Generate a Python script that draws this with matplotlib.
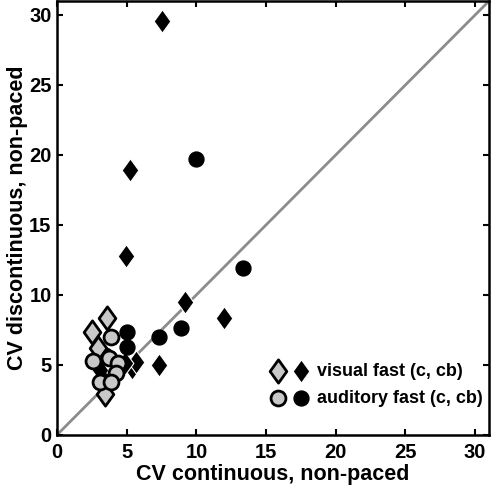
import matplotlib

matplotlib.use("Agg")
import matplotlib.pyplot as plt
from matplotlib.path import Path
from matplotlib.legend_handler import HandlerTuple

plt.rcParams["font.family"] = ["Liberation Sans", "DejaVu Sans"]
plt.rcParams["font.weight"] = "bold"

# visual fast, condition c (grey diamonds)
vis_c_x = [2.5, 3.55, 2.95, 3.45]
vis_c_y = [7.35, 8.35, 6.2, 2.9]
# visual fast, condition cb (black diamonds)
vis_cb_x = [7.55, 5.2, 4.95, 9.2, 12.0, 7.3, 5.35, 5.7, 4.9, 3.1]
vis_cb_y = [29.6, 18.9, 12.8, 9.5, 8.35, 5.0, 4.8, 5.2, 5.1, 4.6]
# auditory fast, condition c (grey circles)
aud_c_x = [3.85, 2.6, 3.7, 4.4, 4.2, 3.1, 3.9]
aud_c_y = [7.0, 5.25, 5.5, 5.1, 4.4, 3.8, 3.8]
# auditory fast, condition cb (black circles)
aud_cb_x = [10.0, 13.35, 8.9, 7.35, 5.05, 5.05, 3.45, 3.2]
aud_cb_y = [19.7, 11.9, 7.6, 7.0, 7.35, 6.25, 5.7, 3.95]

diamond = Path([(0, 1), (0.72, 0), (0, -1), (-0.72, 0), (0, 1)],
               [Path.MOVETO, Path.LINETO, Path.LINETO, Path.LINETO, Path.CLOSEPOLY])

fig = plt.figure(figsize=(4.92, 4.88), dpi=100)
ax = fig.add_axes([0.116, 0.109, 0.878, 0.889])

ax.plot([0, 31], [0, 31], color="#8c8c8c", lw=2, zorder=1)

bd = ax.scatter(vis_cb_x, vis_cb_y, s=280, marker=diamond, c="black",
                edgecolors="white", linewidths=0.8, zorder=2)
bc = ax.scatter(aud_cb_x, aud_cb_y, s=115, marker="o", c="black",
                edgecolors="black", linewidths=1, zorder=2)
gd = ax.scatter(vis_c_x, vis_c_y, s=280, marker=diamond, c="#c8c8c8",
                edgecolors="black", linewidths=2, zorder=3)
gc = ax.scatter(aud_c_x, aud_c_y, s=115, marker="o", c="#c8c8c8",
                edgecolors="black", linewidths=2, zorder=3)

ax.set_xlim(0, 31)
ax.set_ylim(0, 31)
ax.set_xticks(range(0, 31, 5))
ax.set_yticks(range(0, 31, 5))
ax.tick_params(direction="in", top=True, right=True, length=4, width=1.5,
               labelsize=14.5)
ax.tick_params(axis="x", pad=6)
ax.tick_params(axis="y", pad=4)
for sp in ax.spines.values():
    sp.set_linewidth(1.8)

ax.set_xlabel("CV continuous, non-paced", fontsize=15.5, fontweight="bold", labelpad=1)
ax.set_ylabel("CV discontinuous, non-paced", fontsize=15.5, fontweight="bold", labelpad=1)

ax.legend([(gd, bd), (gc, bc)], ["visual fast (c, cb)", "auditory fast (c, cb)"],
          handler_map={tuple: HandlerTuple(ndivide=None, pad=0.4)},
          loc="center right", bbox_to_anchor=(0.985, 0.115), frameon=False,
          borderaxespad=0, borderpad=0,
          fontsize=13, handlelength=2.2, handletextpad=0.4, labelspacing=0.55,
          scatterpoints=1)

fig.savefig("out.png", dpi=100)
